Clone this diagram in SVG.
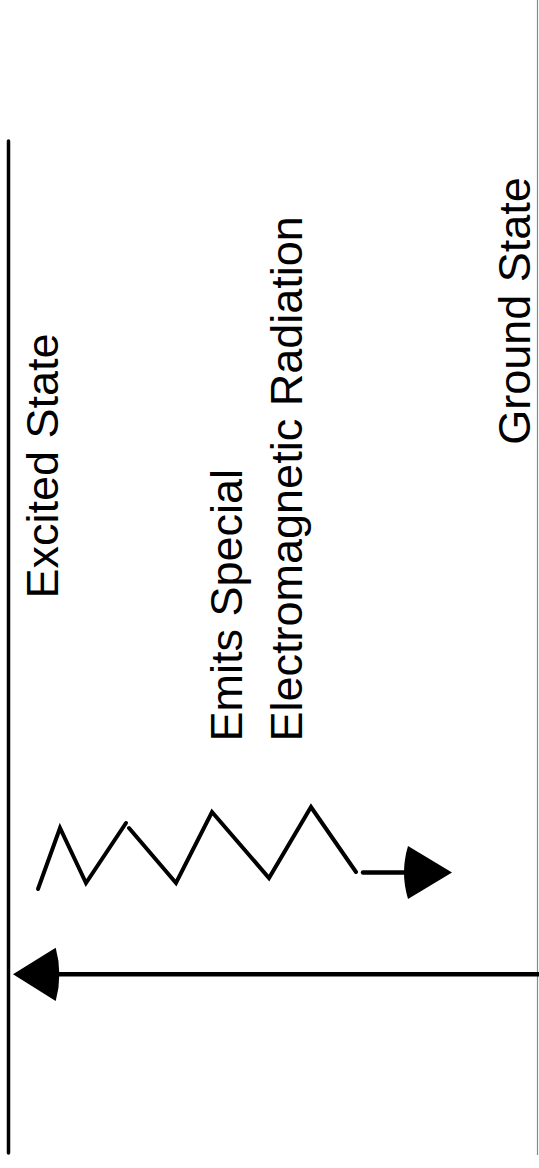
<svg xmlns="http://www.w3.org/2000/svg" width="539" height="1168" viewBox="0 0 539 1168">
<style>
.lbl{font-family:"Liberation Sans",Arial,sans-serif;font-size:45px;fill:#000}
.ln{stroke:#000;fill:none;stroke-linecap:round;stroke-linejoin:miter}
.head{fill:#000;stroke:none}
</style>
<rect x="0" y="0" width="539" height="1168" fill="#fff"/>
<g id="frame">
<line x1="537.5" y1="0" x2="537.5" y2="1155" stroke="#888" stroke-width="1.2"/>
<line class="ln" x1="8.5" y1="141" x2="8.5" y2="1153" stroke-width="3.5"/>
</g>
<g id="excited-state"><text class="lbl" transform="translate(58,466) rotate(-90)" text-anchor="middle">Excited State</text></g>
<g id="emits-label">
<text class="lbl" transform="translate(242,741.5) rotate(-90)">Emits Special</text>
<text class="lbl" transform="translate(302,741.5) rotate(-90)">Electromagnetic Radiation</text>
</g>
<g id="ground-state"><text class="lbl" transform="translate(530,311) rotate(-90)" text-anchor="middle">Ground State</text></g>
<g id="connectors">
<polyline class="ln" stroke-width="4" points="38,889 60,828 86,883 126,823"/>
<polyline class="ln" stroke-width="4" points="129,828 176,883 212,812 269,878 311,807 356,872"/>
<line class="ln" x1="363" y1="872.5" x2="410" y2="872.5" stroke-width="4.5"/>
<path class="head" d="M452,872.5 L408,846 Q400,872.5 408,899 Z"/>
<line x1="539" y1="974.3" x2="50" y2="974.3" stroke="#000" stroke-width="4.5"/>
<path class="head" d="M13,974.3 L55.7,947.7 Q63,974.3 55.7,1001 Z"/>
</g>
</svg>
